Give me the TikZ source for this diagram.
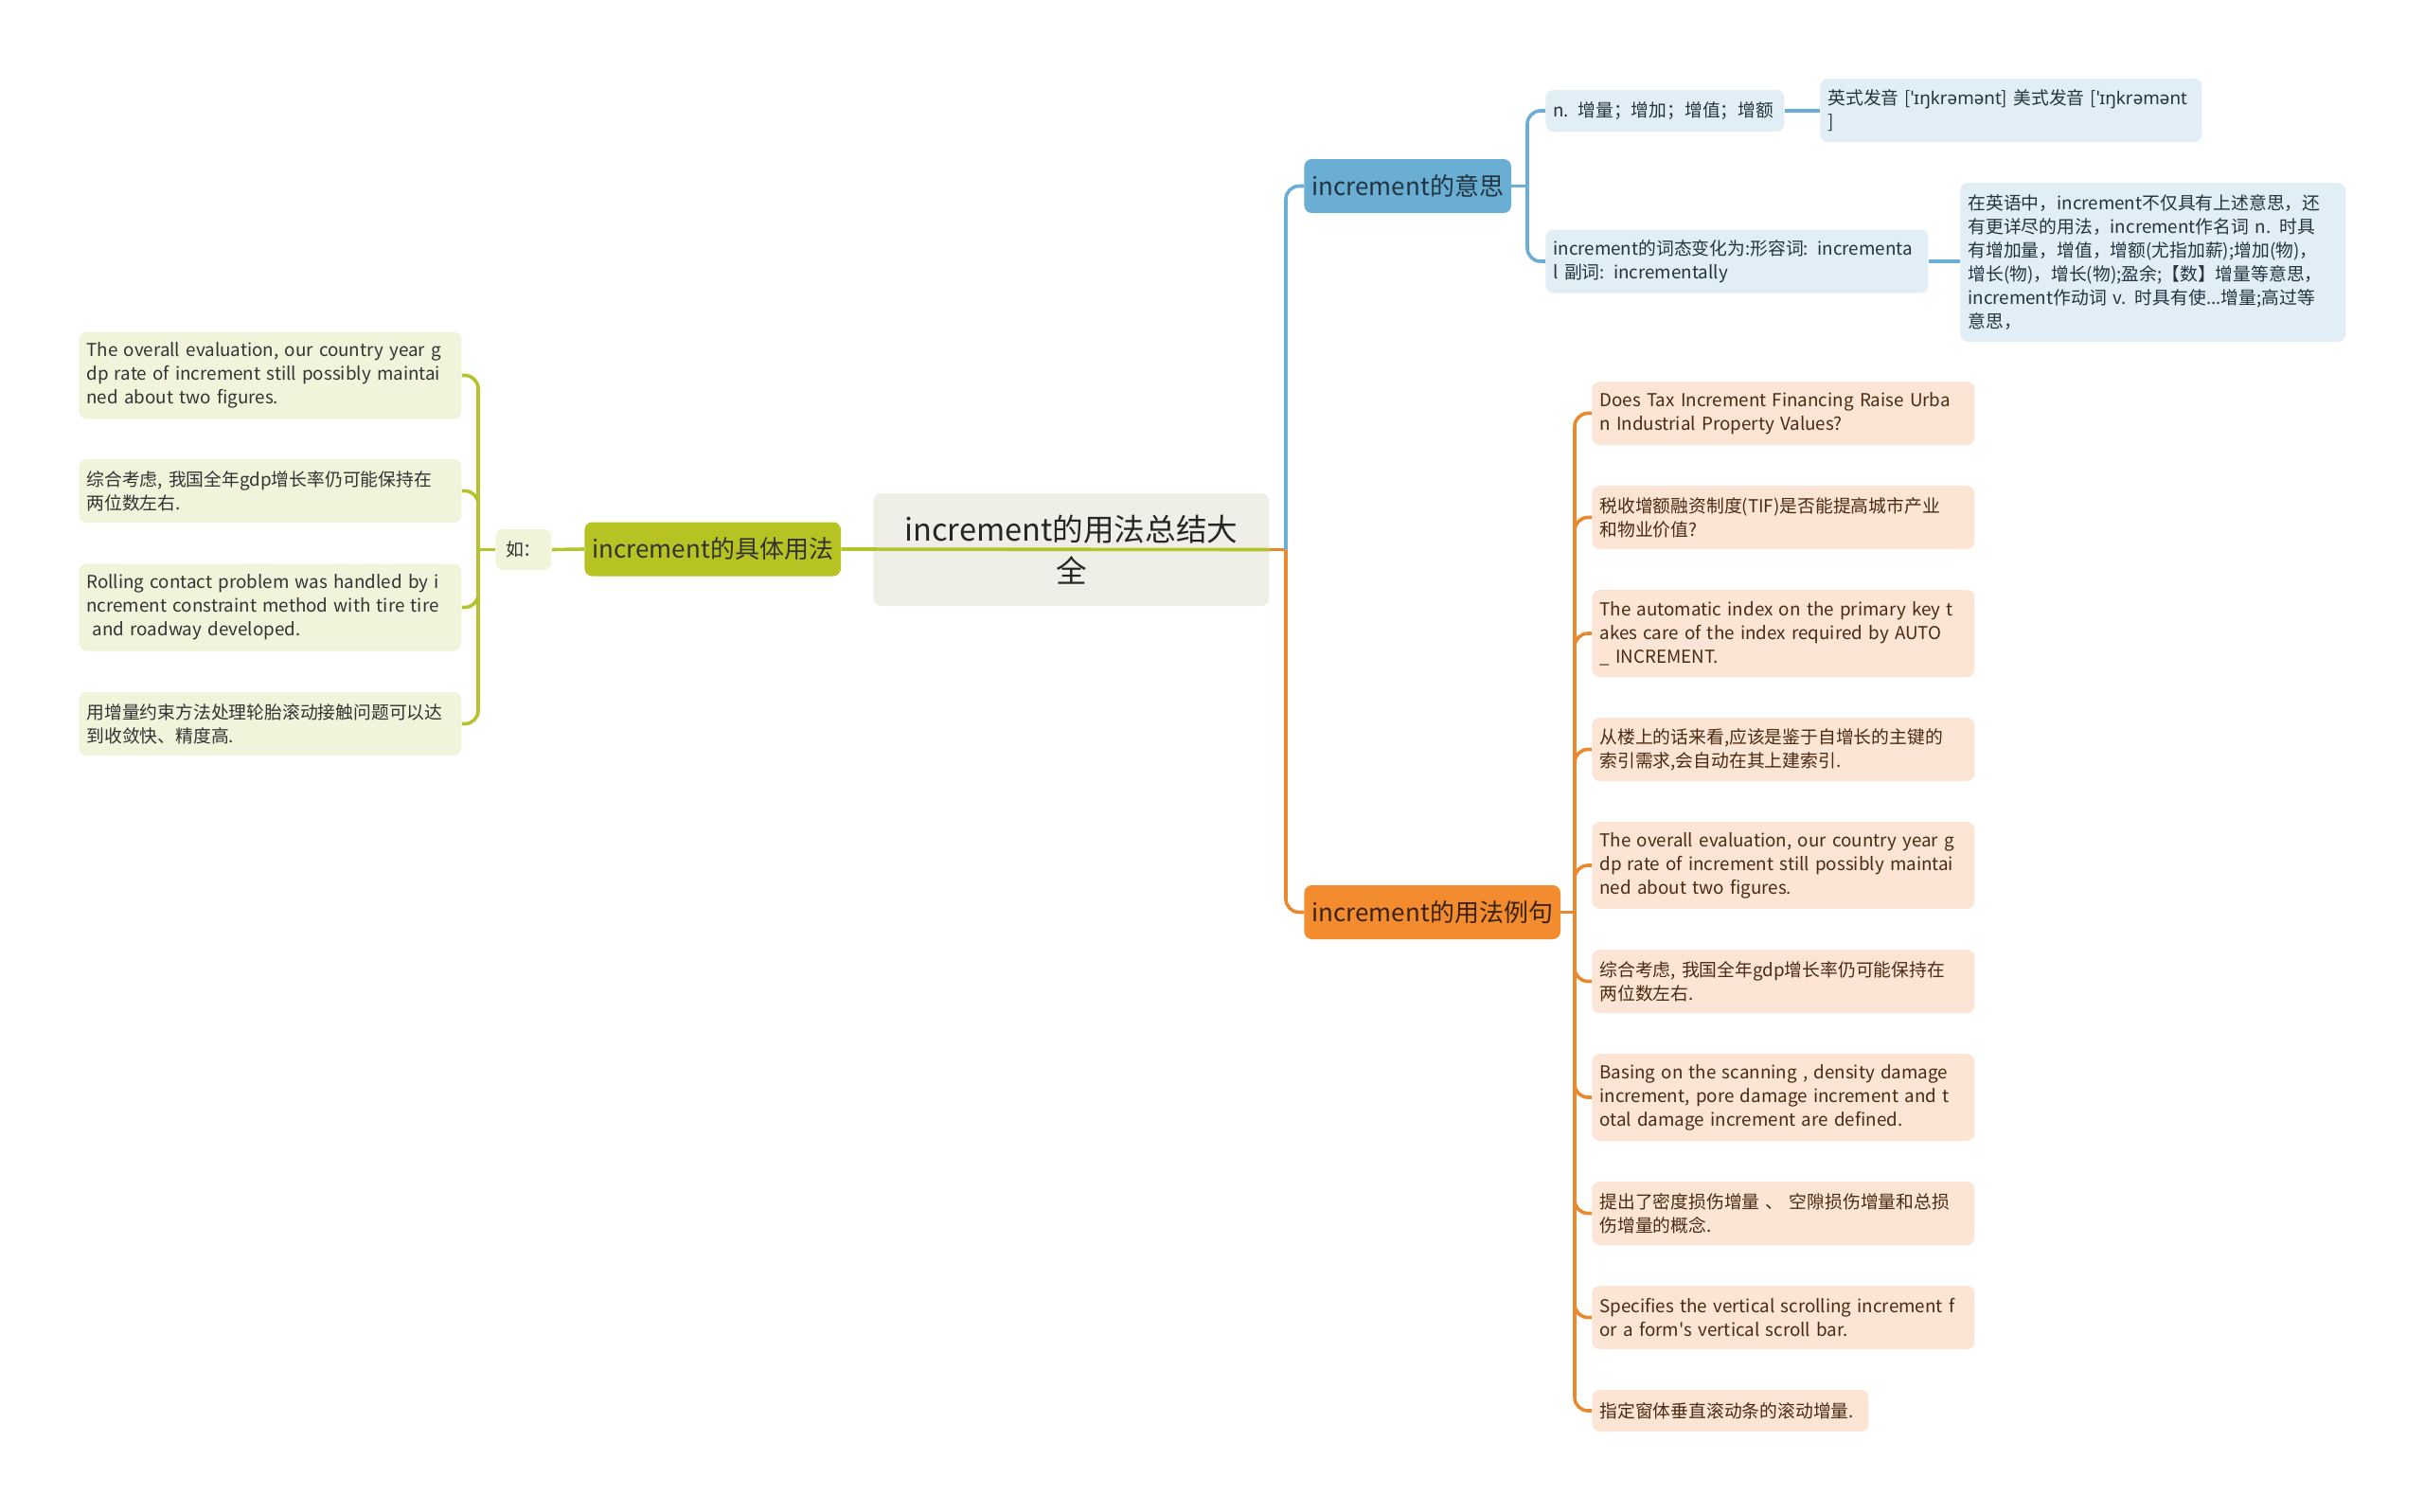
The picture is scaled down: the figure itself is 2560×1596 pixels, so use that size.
\documentclass[tikz,border=0pt]{standalone}
\usepackage{fontspec}
\setmainfont{Noto Sans CJK SC}
\newfontfamily\ipafont{Noto Sans}

\definecolor{rootfill}{HTML}{EFEFE7}
\definecolor{bluemain}{HTML}{6AAED4}
\definecolor{blueleaf}{HTML}{E1EEF6}
\definecolor{bluetext}{HTML}{22343F}
\definecolor{orangemain}{HTML}{F28C2E}
\definecolor{orangeline}{HTML}{E8892F}
\definecolor{orangeleaf}{HTML}{FCE5D4}
\definecolor{orangetext}{HTML}{4A2A12}
\definecolor{greenmain}{HTML}{B6C322}
\definecolor{greenline}{HTML}{B5C22E}
\definecolor{greenleaf}{HTML}{F1F3DA}
\definecolor{greentext}{HTML}{333333}

\tikzset{
  box/.style={rounded corners=4pt, inner xsep=4pt, inner ysep=0pt, anchor=west},
  rootbox/.style={box, fill=rootfill, text=black!85, align=center,
    text width=200pt, minimum width=209pt, minimum height=59.5pt,
    font=\fontsize{16.3}{22}\selectfont},
  mainbox/.style={box, minimum height=28.5pt, font=\fontsize{13}{15}\selectfont},
  mainB/.style={mainbox, fill=bluemain, text=bluetext, minimum width=109pt},
  mainO/.style={mainbox, fill=orangemain, text=orangetext!80!black, minimum width=133.5pt},
  mainG/.style={mainbox, fill=greenmain, text=greentext, minimum width=134pt},
  leaf/.style={box, align=left, text width=194pt, font=\fontsize{9.4}{12.5}\selectfont},
  leafB/.style={leaf, fill=blueleaf, text=bluetext},
  leafO/.style={leaf, fill=orangeleaf, text=orangetext},
  leafG/.style={leaf, fill=greenleaf, text=greentext},
  h1/.style={minimum height=22pt},
  h2/.style={minimum height=33.5pt},
  h3/.style={minimum height=46pt},
  lineB/.style={draw=bluemain, line width=1.8pt, rounded corners=7pt},
  lineO/.style={draw=orangeline, line width=1.8pt, rounded corners=7pt},
  lineG/.style={draw=greenline, line width=1.8pt, rounded corners=7pt},
}

\begin{document}
\begin{tikzpicture}[x=0.5pt,y=-0.5pt]
\useasboundingbox (0,0) rectangle (2560,1596);

% centre
\node[rootbox] (root) at (922,580.5) {increment的用法总结大\\全};

% meaning
\node[mainB] (mean) at (1377,196.5) {increment的意思};
\node[leafB, h1, text width=118pt] (mean1) at (1632,117) {n. 增量；增加；增值；增额};
\node[leafB, h2, text width=193.5pt] (mean1a) at (1922,116.5)
  {英式发音 [{\ipafont ˈɪŋkrəmənt}] 美式发音 [{\ipafont ˈɪŋkrəmənt}\\]};
\node[leafB, h2] (mean2) at (1632,276)
  {increment的词态变化为:形容词: incrementa\\l 副词: incrementally};
\node[leafB, minimum height=84pt, text width=195.5pt] (mean2a) at (2070,277)
  {在英语中，increment不仅具有上述意思，还\\有更详尽的用法，increment作名词 n. 时具\\有增加量，增值，增额(尤指加薪);增加(物)，\\增长(物)，增长(物);盈余;【数】增量等意思，\\increment作动词 v. 时具有使...增量;高过等\\意思，};

% examples
\node[mainO] (usage) at (1377,963.5) {increment的用法例句};
\node[leafO, h2] (ex1) at (1681,436.5) {Does Tax Increment Financing Raise Urba\\n Industrial Property Values?};
\node[leafO, h2] (ex2) at (1681,546.5) {税收增额融资制度(TIF)是否能提高城市产业\\和物业价值?};
\node[leafO, h3] (ex3) at (1681,669) {The automatic index on the primary key t\\akes care of the index required by AUTO\\\_ INCREMENT.};
\node[leafO, h2] (ex4) at (1681,791.5) {从楼上的话来看,应该是鉴于自增长的主键的\\索引需求,会自动在其上建索引.};
\node[leafO, h3] (ex5) at (1681,914) {The overall evaluation, our country year g\\dp rate of increment still possibly maintai\\ned about two figures.};
\node[leafO, h2] (ex6) at (1681,1036.5) {综合考虑, 我国全年gdp增长率仍可能保持在\\两位数左右.};
\node[leafO, h3] (ex7) at (1681,1159) {Basing on the scanning , density damage\\increment, pore damage increment and t\\otal damage increment are defined.};
\node[leafO, h2] (ex8) at (1681,1281.5) {提出了密度损伤增量 、 空隙损伤增量和总损\\伤增量的概念.};
\node[leafO, h2] (ex9) at (1681,1391.5) {Specifies the vertical scrolling increment f\\or a form\textquotesingle s vertical scroll bar.};
\node[leafO, h1, text width=138pt] (ex10) at (1681,1490) {指定窗体垂直滚动条的滚动增量.};

% concrete usage
\node[mainG] (how) at (617,580) {increment的具体用法};
\node[box, fill=greenleaf, text=greentext, minimum width=29.5pt, minimum height=21.5pt,
  font=\fontsize{9.4}{12}\selectfont] (ru) at (523,580.5) {如：};
\node[leafG, h3] (g1) at (83,396.5) {The overall evaluation, our country year g\\dp rate of increment still possibly maintai\\ned about two figures.};
\node[leafG, h2] (g2) at (83,518.5) {综合考虑, 我国全年gdp增长率仍可能保持在\\两位数左右.};
\node[leafG, h3] (g3) at (83,641.5) {Rolling contact problem was handled by i\\ncrement constraint method with tire tire\\\ and roadway developed.};
\node[leafG, h2] (g4) at (83,764.5) {用增量约束方法处理轮胎滚动接触问题可以达\\到收敛快、精度高.};

% connectors
\coordinate (jr) at (1358,580.5);
\draw[lineO] (root.east) -- (jr);
\draw[lineB] (jr) |- (mean.west);
\draw[lineO] (jr) |- (usage.west);

\coordinate (jb) at (1613,196.5);
\draw[lineB] (mean.east) -- (jb);
\foreach \n in {mean1,mean2}
  \draw[lineB] (jb) |- (\n.west);
\draw[lineB] (mean1.east) -- (mean1a.west |- mean1.east);
\draw[lineB] (mean2.east) -- (mean2a.west |- mean2.east);

\coordinate (jo) at (1663,963.5);
\draw[lineO] (usage.east) -- (jo);
\foreach \n in {ex1,ex2,ex3,ex4,ex5,ex6,ex7,ex8,ex9,ex10}
  \draw[lineO] (jo) |- (\n.west);

\draw[lineG] (root.east) -- (how.east);
\draw[lineG] (how.west) -- (ru.east);
\coordinate (jg) at (505,580.5);
\draw[lineG] (ru.west) -- (jg);
\foreach \n in {g1,g2,g3,g4}
  \draw[lineG] (jg) |- (\n.east);
\end{tikzpicture}
\end{document}
